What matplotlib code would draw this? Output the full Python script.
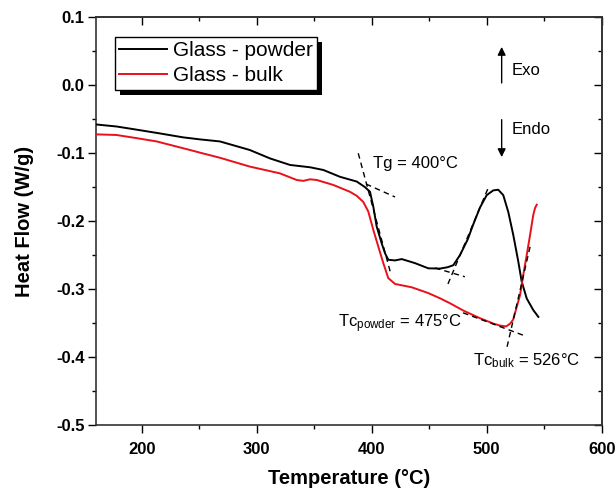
import numpy as np
import matplotlib
matplotlib.use("Agg")
import matplotlib.pyplot as plt
from matplotlib.patches import Rectangle
from matplotlib.ticker import MultipleLocator, FuncFormatter

plt.rcParams.update({
    "font.family": ["Liberation Sans", "DejaVu Sans"],
    "mathtext.fontset": "custom",
    "mathtext.rm": "Liberation Sans",
    "mathtext.it": "Liberation Sans",
    "mathtext.bf": "Liberation Sans:bold",
})

# DSC traces (temperature in degC, heat flow in W/g)
powder_T = [160, 178, 193, 215, 236, 250.7, 268, 294, 311.6, 329, 346.4, 358,
            372.4, 387, 394, 398.5, 401.4, 404.3, 408.7, 411.6, 414.4, 420.3,
            426.1, 437.7, 449.2, 459.4, 466, 471, 476.8, 483.5, 488.3, 494.2,
            500, 505.7, 510, 514.4, 518.8, 523.1, 527.5, 530.4, 534.8, 540.5,
            544.9]
powder_hf = [-0.058, -0.061, -0.065, -0.071, -0.077, -0.080, -0.083, -0.0956,
             -0.108, -0.1176, -0.121, -0.125, -0.135, -0.142, -0.150, -0.157,
             -0.179, -0.208, -0.233, -0.2475, -0.257, -0.258, -0.256, -0.262,
             -0.2696, -0.270, -0.268, -0.265, -0.250, -0.227, -0.205, -0.180,
             -0.162, -0.155, -0.154, -0.162, -0.187, -0.2206, -0.260, -0.289,
             -0.314, -0.331, -0.341]

bulk_T = [160, 178, 195, 213, 242, 250.7, 268, 294, 320.3, 334.8, 340.5, 346.4,
          352.2, 366.6, 381, 387, 392.7, 397, 401.4, 405.8, 410.1, 414.4, 420.3,
          434.8, 449.2, 459.4, 468.1, 480, 494.2, 506, 512, 517, 520.3, 523,
          526, 529, 531.8, 534.8, 537.7, 540.5, 542, 543.5]
bulk_hf = [-0.0726, -0.0735, -0.078, -0.083, -0.0956, -0.0995, -0.107, -0.120,
           -0.130, -0.1397, -0.141, -0.1387, -0.1397, -0.147, -0.157, -0.163,
           -0.172, -0.186, -0.213, -0.238, -0.262, -0.284, -0.2926, -0.2975,
           -0.306, -0.3137, -0.321, -0.332, -0.343, -0.351, -0.354, -0.355,
           -0.351, -0.345, -0.327, -0.309, -0.279, -0.250, -0.2206, -0.191,
           -0.181, -0.176]

# onset construction lines: ((T0, hf0), (T1, hf1))
tangents = [
    ((388.3, -0.1004), (416.8, -0.279)),   # Tg, steep edge
    ((395.0, -0.1456), (420.3, -0.1647)),  # Tg, baseline
    ((455.0, -0.269), (481.0, -0.282)),    # Tc powder, baseline
    ((466.3, -0.2926), (502.0, -0.1485)),  # Tc powder, rising edge
    ((479.4, -0.335), (533.3, -0.369)),    # Tc bulk, baseline
    ((517.7, -0.385), (537.7, -0.238)),    # Tc bulk, rising edge
]

x_ticks = [200, 300, 400, 500, 600]
y_ticks = [0.1, 0.0, -0.1, -0.2, -0.3, -0.4, -0.5]

fig = plt.figure(figsize=(6.15, 4.94), dpi=100)
ax = fig.add_axes([0.1556, 0.1397, 0.8228, 0.8259])

ax.plot(powder_T, powder_hf, color="black", lw=1.4, label="Glass - powder", zorder=3)
ax.plot(bulk_T, bulk_hf, color="#e8101a", lw=1.4, label="Glass - bulk", zorder=3)

for (t0, h0), (t1, h1) in tangents:
    ax.plot([t0, t1], [h0, h1], color="black", lw=1.0, ls=(0, (4, 3)), zorder=4)

ax.set_xlim(160, 600)
ax.set_ylim(-0.5, 0.1)
ax.set_xticks(x_ticks)
ax.set_yticks(y_ticks)
ax.xaxis.set_minor_locator(MultipleLocator(50))
ax.yaxis.set_minor_locator(MultipleLocator(0.05))
ax.yaxis.set_major_formatter(FuncFormatter(lambda v, _: f"{v:.1f}".replace("-0.0", "0.0")))
ax.tick_params(which="major", direction="out", length=6, width=1.0, labelsize=12)
ax.tick_params(which="minor", direction="out", length=3, width=1.0)
ax.tick_params(axis="x", pad=6)
ax.tick_params(axis="y", pad=2)
for lab in ax.get_xticklabels() + ax.get_yticklabels():
    lab.set_fontweight("bold")

# mirrored ticks pointing inward on top and right
top = ax.secondary_xaxis("top")
top.set_xticks(x_ticks)
top.xaxis.set_minor_locator(MultipleLocator(50))
top.tick_params(which="major", direction="in", length=6, width=1.0, labeltop=False)
top.tick_params(which="minor", direction="in", length=3, width=1.0)
right = ax.secondary_yaxis("right")
right.set_yticks(y_ticks)
right.yaxis.set_minor_locator(MultipleLocator(0.05))
right.tick_params(which="major", direction="in", length=6, width=1.0, labelright=False)
right.tick_params(which="minor", direction="in", length=3, width=1.0)

for sp in list(ax.spines.values()) + [top.spines["top"], right.spines["right"]]:
    sp.set_linewidth(1.2)
    sp.set_color("#333333")

ax.set_xlabel("Temperature (°C)", fontsize=14.5, fontweight="bold", labelpad=9)
ax.set_ylabel("Heat Flow (W/g)", fontsize=14.5, fontweight="bold", labelpad=16)

# annotations
ax.text(401.4, -0.115, "Tg = 400°C", fontsize=12, va="center", ha="left")
ax.text(371, -0.357, r"Tc$_{\mathregular{powder}}$ = 475°C", fontsize=12,
        va="baseline", ha="left")
ax.text(488.3, -0.412, r"Tc$_{\mathregular{bulk}}$ = 526°C", fontsize=12,
        va="baseline", ha="left")

arrow = dict(arrowstyle="-|>", color="black", lw=1.0, mutation_scale=12,
             shrinkA=0, shrinkB=0)
ax.annotate("", xy=(513, 0.056), xytext=(513, 0.003), arrowprops=arrow)
ax.annotate("", xy=(513, -0.106), xytext=(513, -0.051), arrowprops=arrow)
ax.text(522, 0.022, "Exo", fontsize=12, va="center", ha="left")
ax.text(522, -0.066, "Endo", fontsize=12, va="center", ha="left")

leg = ax.legend(loc="upper left", bbox_to_anchor=(0.038, 0.951), borderaxespad=0,
                fontsize=15, frameon=True, fancybox=False, framealpha=1,
                edgecolor="black", handlelength=2.3, handletextpad=0.3,
                labelspacing=0.3, borderpad=0.2)
leg.get_frame().set_linewidth(1.0)
leg.set_zorder(6)

# solid drop shadow under the legend box
fig.canvas.draw()
bb = leg.get_window_extent()
(x0, y0), (x1, y1) = fig.transFigure.inverted().transform(
    [(bb.x0 + 5, bb.y0 - 5), (bb.x1 + 5, bb.y1 - 5)])
ax.add_artist(Rectangle((x0, y0), x1 - x0, y1 - y0, transform=fig.transFigure,
                        facecolor="black", edgecolor="none", zorder=5.5))

fig.savefig("out.png", dpi=100)
